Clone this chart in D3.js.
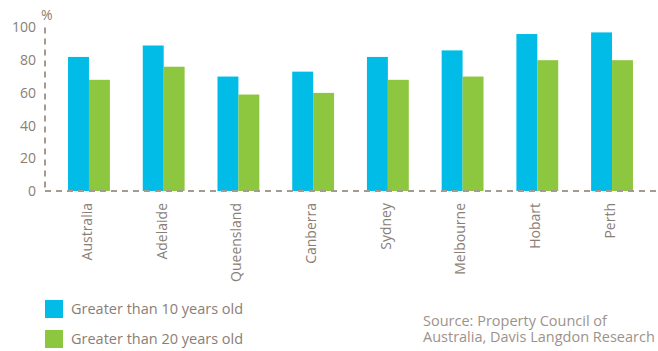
<!DOCTYPE html>
<html>
<head>
<meta charset="utf-8">
<script src="https://cdn.jsdelivr.net/npm/d3@7"></script>
<style>
  body { margin: 0; background: #fff; }
  svg text { font-family: "Open Sans", "Liberation Sans", sans-serif; }
</style>
</head>
<body>
<svg id="chart" width="658" height="351"></svg>
<script>
const categories = ["Australia", "Adelaide", "Queensland", "Canberra", "Sydney", "Melbourne", "Hobart", "Perth"];
const over10 = [82, 89, 70, 73, 82, 86, 96, 97];
const over20 = [68, 76, 59, 60, 68, 70, 80, 80];
const seriesNames = ["Greater than 10 years old", "Greater than 20 years old"];
const yTicks = [0, 20, 40, 60, 80, 100];

const colors = ["#00bce6", "#8dc63f"];
const textColor = "#8a7e75";
const axisColor = "#a39a92";
const fontFamily = "'Open Sans', 'Liberation Sans', sans-serif";

const svg = d3.select("#chart");

const x0 = d3.scaleBand()
  .domain(categories)
  .range([51.6, 649.4])
  .paddingInner(0.44)
  .paddingOuter(0.22);

const x1 = d3.scaleBand()
  .domain([0, 1])
  .range([0, x0.bandwidth()]);

const y = d3.scaleLinear().domain([0, 100]).range([191, 27.5]);

// Bars
const groups = svg.selectAll("g.grp")
  .data(categories.map((c, i) => ({ c, vals: [over10[i], over20[i]] })))
  .enter()
  .append("g")
  .attr("class", "grp")
  .attr("transform", d => `translate(${x0(d.c)},0)`);

groups.selectAll("rect")
  .data(d => d.vals)
  .enter()
  .append("rect")
  .attr("x", (v, j) => x1(j))
  .attr("width", x1.bandwidth())
  .attr("y", v => y(v))
  .attr("height", v => y(0) - y(v))
  .attr("fill", (v, j) => colors[j]);

// Dashed axes
svg.append("line")
  .attr("x1", 45).attr("x2", 45)
  .attr("y1", y(100)).attr("y2", y(0))
  .attr("stroke", axisColor)
  .attr("stroke-width", 2)
  .attr("stroke-dasharray", "6,5");

svg.append("line")
  .attr("x1", 45).attr("x2", 658)
  .attr("y1", y(0)).attr("y2", y(0))
  .attr("stroke", axisColor)
  .attr("stroke-width", 2)
  .attr("stroke-dasharray", "6,5");

// Y tick labels
const yAxis = svg.append("g")
  .attr("transform", "translate(36,0)")
  .call(d3.axisLeft(y).tickValues(yTicks).tickSize(0).tickPadding(0));
yAxis.select(".domain").remove();
yAxis.selectAll("text")
  .attr("fill", textColor)
  .style("font-size", "14px")
  .style("font-family", fontFamily);

svg.append("text")
  .attr("x", 41).attr("y", 20)
  .attr("fill", textColor)
  .style("font-size", "14px")
  .text("%");

// X labels, rotated
svg.selectAll("text.cat")
  .data(categories)
  .enter()
  .append("text")
  .attr("class", "cat")
  .attr("transform", d => `translate(${x0(d) + x0.bandwidth() / 2 - 2},203) rotate(-90)`)
  .attr("text-anchor", "end")
  .attr("dy", "0.35em")
  .attr("fill", textColor)
  .style("font-size", "14px")
  .text(d => d);

// Legend
const legend = svg.selectAll("g.leg")
  .data(seriesNames)
  .enter()
  .append("g")
  .attr("class", "leg")
  .attr("transform", (d, i) => `translate(45,${300 + i * 30})`);

legend.append("rect")
  .attr("width", 18).attr("height", 18)
  .attr("fill", (d, i) => colors[i]);

legend.append("text")
  .attr("x", 26).attr("y", 9)
  .attr("dy", "0.35em")
  .attr("fill", textColor)
  .style("font-size", "14.5px")
  .text(d => d);

// Source note
const source = svg.append("text")
  .attr("x", 423).attr("y", 326)
  .attr("fill", "#9d928a")
  .style("font-size", "14.5px");
source.append("tspan").attr("x", 423).text("Source: Property Council of");
source.append("tspan").attr("x", 423).attr("dy", 15.5).text("Australia, Davis Langdon Research");
</script>
</body>
</html>
